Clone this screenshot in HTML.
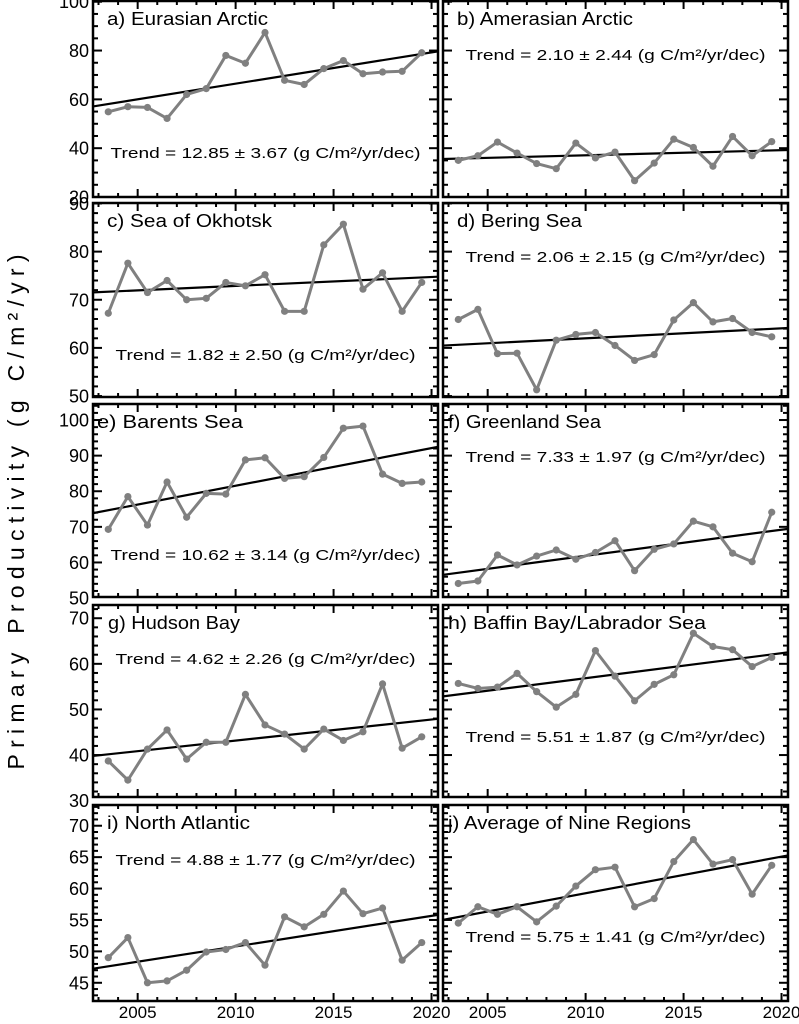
<!DOCTYPE html>
<html><head><meta charset="utf-8">
<style>
html,body{margin:0;padding:0;background:#fff;}
svg{display:block;font-family:"Liberation Sans",sans-serif;}
</style></head>
<body>
<svg id="chart" width="799" height="1024" viewBox="0 0 799 1024" xmlns="http://www.w3.org/2000/svg">
<text transform="translate(24,512) rotate(-90)" text-anchor="middle" font-size="23" fill="#000" textLength="515" lengthAdjust="spacing">Primary Productivity (g C/m²/yr)</text>
</svg>
<script>
const years = [2003,2004,2005,2006,2007,2008,2009,2010,2011,2012,2013,2014,2015,2016,2017,2018,2019];
const xTickLabels = ["2005","2010","2015","2020"];
const eurasianArctic = [54.9,57.0,56.7,52.2,62.0,64.4,78.0,74.8,87.4,67.8,66.1,72.6,75.9,70.5,71.2,71.5,79.1];
const amerasianArctic = [35.0,36.9,42.5,38.0,33.7,31.6,42.1,36.0,38.4,26.7,33.9,43.7,40.3,32.6,44.8,36.9,42.7];
const seaOfOkhotsk = [67.2,77.6,71.5,74.0,70.0,70.3,73.6,72.9,75.2,67.6,67.6,81.4,85.7,72.2,75.6,67.6,73.6];
const beringSea = [65.9,68.0,58.8,58.9,51.3,61.6,62.8,63.2,60.5,57.4,58.6,65.8,69.4,65.4,66.1,63.2,62.3];
const barentsSea = [69.3,78.5,70.5,82.6,72.7,79.4,79.2,88.8,89.4,83.6,84.1,89.5,97.7,98.3,84.8,82.2,82.6];
const greenlandSea = [54.1,54.8,62.1,59.3,61.8,63.5,60.9,62.8,66.1,57.7,63.7,65.2,71.6,70.0,62.6,60.2,74.1];
const hudsonBay = [38.7,34.5,41.3,45.5,39.1,42.8,42.8,53.3,46.6,44.6,41.3,45.7,43.2,45.1,55.6,41.5,44.0];
const baffinBay = [55.7,54.6,54.9,57.9,53.9,50.5,53.3,62.9,57.3,51.9,55.5,57.6,66.7,63.8,63.1,59.4,61.4];
const northAtlantic = [49.0,52.2,45.0,45.3,47.0,49.9,50.3,51.4,47.8,55.5,53.9,55.9,59.6,56.0,56.9,48.6,51.4];
const nineRegionAvg = [54.5,57.1,55.9,57.1,54.7,57.2,60.4,63.0,63.4,57.1,58.4,64.3,67.8,63.9,64.6,59.1,63.7];
const panelTitles = ["a) Eurasian Arctic","b) Amerasian Arctic","c) Sea of Okhotsk","d) Bering Sea","e) Barents Sea","f) Greenland Sea","g) Hudson Bay","h) Baffin Bay/Labrador Sea","i) North Atlantic","j) Average of Nine Regions"];
const trendTexts = ["Trend = 12.85 ± 3.67 (g C/m²/yr/dec)","Trend = 2.10 ± 2.44 (g C/m²/yr/dec)","Trend = 1.82 ± 2.50 (g C/m²/yr/dec)","Trend = 2.06 ± 2.15 (g C/m²/yr/dec)","Trend = 10.62 ± 3.14 (g C/m²/yr/dec)","Trend = 7.33 ± 1.97 (g C/m²/yr/dec)","Trend = 4.62 ± 2.26 (g C/m²/yr/dec)","Trend = 5.51 ± 1.87 (g C/m²/yr/dec)","Trend = 4.88 ± 1.77 (g C/m²/yr/dec)","Trend = 5.75 ± 1.41 (g C/m²/yr/dec)"];
const yTickLabelsRow0 = [20,40,60,80,100];
const yTickLabelsRow1 = [50,60,70,80,90];
const yTickLabelsRow2 = [50,60,70,80,90,100];
const yTickLabelsRow3 = [30,40,50,60,70];
const yTickLabelsRow4 = [45,50,55,60,65,70];

const series = [eurasianArctic,amerasianArctic,seaOfOkhotsk,beringSea,barentsSea,greenlandSea,hudsonBay,baffinBay,northAtlantic,nineRegionAvg];
const names = ["eurasian-arctic","amerasian-arctic","sea-of-okhotsk","bering-sea","barents-sea","greenland-sea","hudson-bay","baffin-bay","north-atlantic","average-nine-regions"];
const rows = [
 {top:1,bottom:197,ymin:20,ymax:100.3,ticks:yTickLabelsRow0,minor:5},
 {top:203,bottom:397,ymin:49.8,ymax:90.1,ticks:yTickLabelsRow1,minor:2},
 {top:404,bottom:597,ymin:50.3,ymax:104.5,ticks:yTickLabelsRow2,minor:2},
 {top:605,bottom:797,ymin:30.8,ymax:72.9,ticks:yTickLabelsRow3,minor:2},
 {top:805,bottom:1001,ymin:42.1,ymax:73.3,ticks:yTickLabelsRow4,minor:1}
];
const cols = [{left:93,right:438},{left:443,right:788}];
const trendY = [153,55,355,257,555,457,659,737,860,937];
const titleW = [161,176,165,125,146,153,132,258,143,243];
const titleX = [107,457,107,457,97,448,108,448,107,448];
const XMIN=2002.72, XMAX=2020.33;
const NS="http://www.w3.org/2000/svg";
const svg=document.getElementById('chart');
function el(tag,attrs,parent){const e=document.createElementNS(NS,tag);for(const k in attrs)e.setAttribute(k,attrs[k]);(parent||svg).appendChild(e);return e;}

for(let p=0;p<10;p++){
  const r=rows[Math.floor(p/2)], c=cols[p%2];
  const xs=v=>c.left+(v+0.5-XMIN)/(XMAX-XMIN)*(c.right-c.left);
  const ys=v=>r.bottom-(v-r.ymin)/(r.ymax-r.ymin)*(r.bottom-r.top);
  const g=el('g',{});
  
  
  const clipId='clip'+p;
  const cp=el('clipPath',{id:clipId},g);
  el('rect',{x:c.left,y:r.top,width:c.right-c.left,height:r.bottom-r.top},cp);
  for(let yr=2003;yr<=2020;yr++){
    const x=c.left+(yr-XMIN)/(XMAX-XMIN)*(c.right-c.left);
    const L=(yr%5===0)?8:4;
    const t1=el('line',{x1:x,x2:x,y1:r.bottom,y2:r.bottom-L,stroke:'#000','stroke-width':2},g);
    
    
    el('line',{x1:x,x2:x,y1:r.top,y2:r.top+L,stroke:'#000','stroke-width':2},g);
  }
  const t0=r.ticks[0], tStep=r.ticks[1]-r.ticks[0];
  for(let v=Math.ceil(r.ymin/r.minor)*r.minor; v<=r.ymax+1e-6; v+=r.minor){
    const y=ys(v);
    const major=Math.abs(((v-t0)/tStep)-Math.round((v-t0)/tStep))<1e-6;
    const L=major?9:5;
    const yt=el('line',{x1:c.left,x2:c.left+L,y1:y,y2:y,stroke:'#000','stroke-width':2},g);
    
    
    el('line',{x1:c.right,x2:c.right-L,y1:y,y2:y,stroke:'#000','stroke-width':2},g);
  }
  if(p%2===0){
    r.ticks.forEach(v=>{
      const t=el('text',{x:c.left-4,y:ys(v)+6.5,'text-anchor':'end','font-size':18},g);
      
      
      t.textContent=v;
    });
  }
  const fr=el('rect',{x:c.left,y:r.top,width:c.right-c.left,height:r.bottom-r.top,fill:'none',stroke:'#000','stroke-width':2.5},g);
  
  
  const d=series[p], n=d.length;
  const mx=years.reduce((a,b)=>a+b,0)/n, my=d.reduce((a,b)=>a+b,0)/n;
  let sxy=0,sxx=0;for(let i=0;i<n;i++){sxy+=(years[i]-mx)*(d[i]-my);sxx+=(years[i]-mx)**2;}
  const slope=sxy/sxx;
  const yAt=yr=>my+slope*(yr-0.5-mx);
  const tl=el('line',{x1:c.left,y1:ys(yAt(XMIN)),x2:c.right,y2:ys(yAt(XMAX)),stroke:'#000','stroke-width':2.2,'clip-path':'url(#'+clipId+')'},g);
  
  
  const pl=el('polyline',{points:d.map((v,i)=>xs(years[i])+','+ys(v)).join(' '),fill:'none',stroke:'#808080','stroke-width':3,'stroke-linejoin':'round','clip-path':'url(#'+clipId+')'},g);
  
  
  d.forEach((v,i)=>{
    const ci=el('circle',{cx:xs(years[i]),cy:ys(v),r:3.6,fill:'#808080'},g);
    
    
  });
  const tt=el('text',{x:titleX[p],y:r.top+24,'font-size':18,textLength:titleW[p],lengthAdjust:'spacingAndGlyphs'},g);
  
  
  tt.textContent=panelTitles[p];
  const tw=trendTexts[p].length>35?310:300;
  const tx=el('text',{x:(c.left+c.right)/2,y:trendY[p]+5,'font-size':15,'text-anchor':'middle',textLength:tw,lengthAdjust:'spacingAndGlyphs'},g);
  
  
  tx.textContent=trendTexts[p];
  if(p>=8){
    xTickLabels.forEach(s=>{
      const x=c.left+(parseFloat(s)-XMIN)/(XMAX-XMIN)*(c.right-c.left);
      const t=el('text',{x:x,y:1018,'text-anchor':'middle','font-size':17},g);
      
      
      t.textContent=s;
    });
  }
}
</script>
</body></html>
